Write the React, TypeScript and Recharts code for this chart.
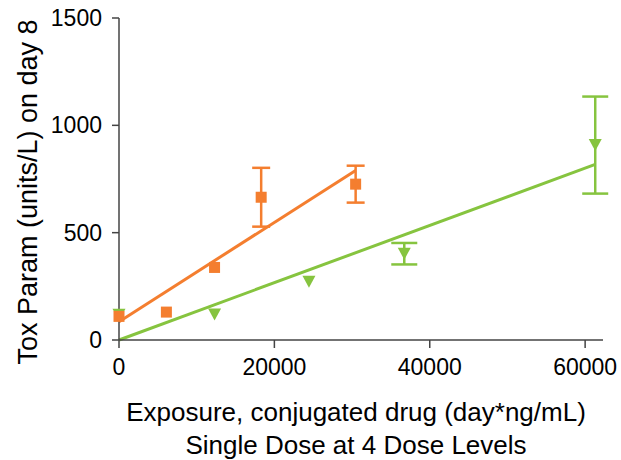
import React from "react";
import {
  ComposedChart,
  Scatter,
  XAxis,
  YAxis,
  ErrorBar,
  ReferenceLine,
  Label,
} from "recharts";

const xTicks = [0, 20000, 40000, 60000];
const yTicks = [0, 500, 1000, 1500];

// orange squares
const orangeX = [0, 6100, 12300, 18300, 30460];
const orangeY = [110, 130, 338, 665, 726];
const orangeErr = [0, 0, 0, 137, 86];

// green down-triangles
const greenX = [0, 12300, 24450, 36720, 61300];
const greenY = [118, 119, 271, 402, 908];
const greenErr = [0, 0, 0, 50, 226];

// linear fits (start / end)
const orangeFitX = [0, 30460];
const orangeFitY = [85, 790];
const greenFitX = [0, 61300];
const greenFitY = [0, 818];

const ORANGE = "#f47e2f";
const GREEN = "#86c43f";
const AXIS = "#444";
const FONT = "'Liberation Sans', Arial, sans-serif";

const toPoints = (xs: number[], ys: number[], errs?: number[]) =>
  xs.map((x, i) => ({ x, y: ys[i], err: errs ? errs[i] : 0 }));

const orangeData = toPoints(orangeX, orangeY, orangeErr);
const greenData = toPoints(greenX, greenY, greenErr);
const orangeFit = toPoints(orangeFitX, orangeFitY).map(({ x, y }) => ({ x, y }));
const greenFit = toPoints(greenFitX, greenFitY).map(({ x, y }) => ({ x, y }));

function Square(props: any) {
  const { cx, cy } = props;
  if (cx == null || cy == null) return null;
  return <rect x={cx - 5.5} y={cy - 5.5} width={11} height={11} fill={ORANGE} />;
}

function TriangleDown(props: any) {
  const { cx, cy } = props;
  if (cx == null || cy == null) return null;
  const w = 6.5;
  const h = 6;
  return (
    <polygon
      points={`${cx - w},${cy - h} ${cx + w},${cy - h} ${cx},${cy + h}`}
      fill={GREEN}
    />
  );
}

export default function App() {
  return (
    <div style={{ position: "absolute", left: 0, top: 0, fontFamily: FONT }}>
      <ComposedChart
        width={621}
        height={460}
        margin={{ top: 18, right: 18, bottom: 0, left: 0 }}
      >
        <XAxis
          type="number"
          dataKey="x"
          domain={[0, 62300]}
          ticks={xTicks}
          height={120}
          tickSize={8}
          tickMargin={11}
          stroke={AXIS}
          strokeWidth={1.5}
          tick={{ fill: "#000", fontSize: 23 }}
        >
          <Label
            content={(p: any) => {
              const vb = p.viewBox || {};
              const cx = vb.x + vb.width / 2 - 5;
              return (
                <g fontFamily={FONT} fontSize={26} fill="#000" textAnchor="middle">
                  <text x={cx} y={vb.y + 81}>
                    Exposure, conjugated drug (day*ng/mL)
                  </text>
                  <text x={cx} y={vb.y + 114}>
                    Single Dose at 4 Dose Levels
                  </text>
                </g>
              );
            }}
          />
        </XAxis>
        <YAxis
          type="number"
          dataKey="y"
          domain={[0, 1500]}
          ticks={yTicks}
          width={119}
          tickSize={7}
          tickMargin={10}
          stroke={AXIS}
          strokeWidth={1.5}
          tick={{ fill: "#000", fontSize: 23 }}
        >
          <Label
            content={() => (
              <text
                x={37}
                y={192}
                transform="rotate(-90 37 192)"
                fontFamily={FONT}
                fontSize={27}
                fill="#000"
                textAnchor="middle"
              >
                Tox Param (units/L) on day 8
              </text>
            )}
          />
        </YAxis>
        <ReferenceLine
          segment={greenFit}
          stroke={GREEN}
          strokeWidth={3}
          ifOverflow="visible"
        />
        <ReferenceLine
          segment={orangeFit}
          stroke={ORANGE}
          strokeWidth={3}
          ifOverflow="visible"
        />
        <Scatter
          data={greenData}
          dataKey="y"
          shape={TriangleDown}
          isAnimationActive={false}
        >
          <ErrorBar
            dataKey="err"
            direction="y"
            width={13}
            strokeWidth={2.5}
            stroke={GREEN}
          />
        </Scatter>
        <Scatter
          data={orangeData}
          dataKey="y"
          shape={Square}
          isAnimationActive={false}
        >
          <ErrorBar
            dataKey="err"
            direction="y"
            width={9}
            strokeWidth={2.5}
            stroke={ORANGE}
          />
        </Scatter>
      </ComposedChart>
    </div>
  );
}
